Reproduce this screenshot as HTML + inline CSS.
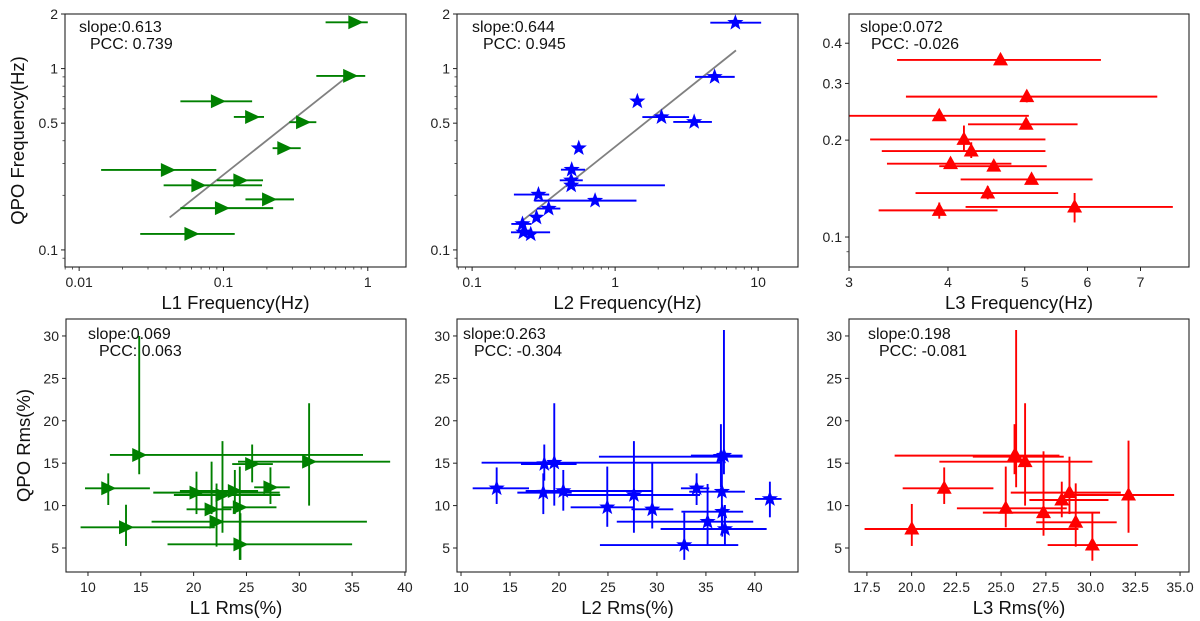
<!DOCTYPE html>
<html><head><meta charset="utf-8"><style>
body{margin:0;background:#fff;}
svg{display:block;font-family:"Liberation Sans","DejaVu Sans",sans-serif;}
</style></head><body>
<svg id="fig" width="1200" height="621" viewBox="0 0 1200 621" xmlns="http://www.w3.org/2000/svg"></svg>
<script>
// ---- Panel 1: L1 freq vs QPO freq ----
const p1X=[0.82,0.755,0.0915,0.158,0.356,0.264,0.0412,0.131,0.067,0.207,0.0976,0.060];
const p1Y=[1.80,0.911,0.66,0.541,0.506,0.364,0.276,0.242,0.227,0.19,0.170,0.1225];
const p1XLo=[0.51,0.44,0.0503,0.118,0.286,0.219,0.0142,0.0899,0.0385,0.142,0.0503,0.0265];
const p1XHi=[1.0,0.96,0.158,0.191,0.44,0.343,0.0892,0.188,0.185,0.308,0.221,0.1197];
const p1Fit=[[0.0424,0.151],[0.679,0.87]];
// ---- Panel 2: L2 freq vs QPO freq ----
const p2X=[6.93,4.96,1.43,2.11,3.57,0.557,0.497,0.493,0.493,0.291,0.724,0.343,0.282,0.225,0.228,0.257];
const p2Y=[1.79,0.9,0.66,0.54,0.508,0.364,0.277,0.242,0.227,0.202,0.187,0.169,0.151,0.139,0.125,0.122];
const p2XLo=[4.63,3.62,1.43,1.55,2.55,0.557,0.418,0.41,0.493,0.196,0.272,0.284,0.272,0.188,0.187,0.245];
const p2XHi=[10.5,6.86,1.43,3.29,4.75,0.557,0.616,0.594,2.23,0.346,1.41,0.414,0.292,0.26,0.351,0.27];
const p2Fit=[[0.23,0.147],[7.0,1.26]];
// ---- Panel 3: L3 freq vs QPO freq ----
const p3X=[4.66,5.03,3.90,5.02,4.19,4.28,4.03,4.57,5.10,4.49,5.78,3.90];
const p3Y=[0.355,0.273,0.238,0.224,0.201,0.185,0.169,0.166,0.151,0.137,0.124,0.121];
const p3XLo=[3.45,3.54,3.0,4.24,3.19,3.30,3.35,3.90,4.15,3.64,4.21,3.27];
const p3XHi=[6.24,7.35,5.06,5.83,5.31,5.31,4.81,5.33,6.09,5.51,7.69,4.62];
const p3YLo=[0.355,0.262,0.238,0.224,0.185,0.176,0.169,0.160,0.151,0.131,0.111,0.114];
const p3YHi=[0.355,0.285,0.238,0.224,0.222,0.197,0.169,0.172,0.151,0.144,0.137,0.128];
// ---- Panel 4: L1 rms vs QPO rms ----
const p4X=[14.85,30.93,25.54,11.92,27.27,20.27,22.73,23.9,21.7,24.37,22.17,13.6,24.43];
const p4Y=[15.97,15.18,14.9,12.04,12.15,11.53,11.25,11.72,9.56,9.8,8.1,7.44,5.43];
const p4XLo=[12.08,24.2,23.65,9.72,25.73,16.18,18.13,18.7,19.33,22.64,16.02,9.3,17.53];
const p4XHi=[36.03,38.6,27.5,15.86,29.1,28.15,28.2,26.1,23.58,27.84,36.4,22.0,35.0];
const p4YLo=[13.7,10.0,12.74,10.07,10.19,9.0,6.8,9.0,9.0,3.6,5.16,5.24,3.6];
const p4YHi=[30,22.06,17.2,13.8,14.51,14.0,17.6,14.2,15.18,14.6,12.6,10.1,9.1];
// ---- Panel 5: L2 rms vs QPO rms ----
const p5X=[36.84,36.53,19.52,18.5,13.64,18.4,20.44,27.65,34.05,36.63,24.93,29.52,41.53,36.67,35.17,36.94,32.79];
const p5Y=[15.89,15.77,15.06,14.9,12.04,11.53,11.72,11.25,12.04,11.64,9.8,9.56,10.78,9.28,8.1,7.24,5.35];
const p5XLo=[33.47,24.08,12.1,16.12,11.19,15.75,16.6,20.44,32.45,33.3,21.19,27.4,40,32.5,25.9,30.37,24.18];
const p5XHi=[38.74,38.74,36.6,21.8,16.94,21.3,29.5,34.4,35.34,38.98,27.6,31.67,42.72,38.8,39.83,41.2,38.3];
const p5YLo=[13.7,12.16,10.0,12.94,10.19,9.0,9.4,6.8,10.07,7.44,7.5,7.3,8.62,6.34,5.24,5.35,3.6];
const p5YHi=[30.7,19.6,22.06,17.2,14.5,13.8,14.2,17.6,13.8,16.2,14.6,15.1,12.82,10.07,12.55,10.07,9.17];
// ---- Panel 6: L3 rms vs QPO rms ----
const p6X=[25.84,25.75,26.34,21.82,32.12,28.82,28.39,25.26,27.37,29.17,20.01,30.1];
const p6Y=[15.77,15.89,15.18,12.04,11.25,11.53,10.66,9.68,9.17,8.03,7.24,5.35];
const p6XLo=[23.42,19.05,21.55,19.5,29.0,25.54,26.58,22.53,23.98,26.96,17.37,27.6];
const p6XHi=[28.5,28.26,30.1,24.57,34.67,31.69,31.0,28.67,30.53,31.46,29.32,32.64];
const p6YLo=[12.16,13.7,10.0,10.19,6.8,9.0,8.62,7.44,6.45,5.16,5.24,3.5];
const p6YHi=[30.7,19.6,22.06,14.5,17.66,15.77,12.82,14.6,16.4,12.62,10.19,9.17];
// tick labels
const tickLogX1=[0.01,0.1,1];const tickLogX1L=["0.01","0.1","1"];
const tickLogX2=[0.1,1,10];const tickLogX2L=["0.1","1","10"];
const tickLogY12=[0.1,0.5,1,2];const tickLogY12L=["0.1","0.5","1","2"];
const tickY3=[0.1,0.2,0.3,0.4];const tickY3L=["0.1","0.2","0.3","0.4"];
const tickX3=[3,4,5,6,7];const tickX3L=["3","4","5","6","7"];
const tickX4=[10,15,20,25,30,35,40];
const tickX5=[10,15,20,25,30,35,40];
const tickX6=[17.5,20,22.5,25,27.5,30,32.5,35];const tickX6L=["17.5","20.0","22.5","25.0","27.5","30.0","32.5","35.0"];
const tickYR=[5,10,15,20,25,30];

const NS="http://www.w3.org/2000/svg";
const fig=document.getElementById('fig');
function mk(tag,attrs,parent){const e=document.createElementNS(NS,tag);for(const k in attrs)e.setAttribute(k,attrs[k]);(parent||fig).appendChild(e);return e;}
function scale(lo,hi,p0,p1,log){if(log){const a=Math.log10(lo),b=Math.log10(hi);return v=>p0+(Math.log10(v)-a)/(b-a)*(p1-p0);}return v=>p0+(v-lo)/(hi-lo)*(p1-p0);}

function marker(g,type,cx,cy,color){
  let e;
  if(type==='right'){e=mk('polygon',{points:`${cx-7},${cy-7} ${cx+8},${cy} ${cx-7},${cy+7}`,fill:color},g);}
  else if(type==='up'){e=mk('polygon',{points:`${cx-7.5},${cy+5.5} ${cx},${cy-8} ${cx+7.5},${cy+5.5}`,fill:color},g);}
  else {let pts=[];for(let i=0;i<10;i++){const r=i%2?3.5:8.5;const a=-Math.PI/2+i*Math.PI/5;pts.push((cx+r*Math.cos(a)).toFixed(2)+','+(cy+r*Math.sin(a)).toFixed(2));}
    e=mk('polygon',{points:pts.join(' '),fill:color},g);}
  
  
}

function panel(cfg){
  const g=mk('g',{});
  
  
  const {L,R,T,B}=cfg;
  const sx=scale(cfg.xr[0],cfg.xr[1],L,R,cfg.xlog), sy=scale(cfg.yr[0],cfg.yr[1],B,T,cfg.ylog);
  if(cfg.fit){const f=mk('line',{x1:sx(cfg.fit[0][0]),y1:sy(cfg.fit[0][1]),x2:sx(cfg.fit[1][0]),y2:sy(cfg.fit[1][1]),stroke:'#808080','stroke-width':1.8},g);
    }
  const n=cfg.x.length;
  for(let i=0;i<n;i++){
    const xe=mk('line',{x1:sx(cfg.xlo[i]),x2:sx(cfg.xhi[i]),y1:sy(cfg.y[i]),y2:sy(cfg.y[i]),stroke:cfg.color,'stroke-width':1.9},g);
    
    if(cfg.ylo){const ye=mk('line',{x1:sx(cfg.x[i]),x2:sx(cfg.x[i]),y1:sy(cfg.ylo[i]),y2:sy(cfg.yhi[i]),stroke:cfg.color,'stroke-width':1.9},g);
      }
  }
  for(let i=0;i<n;i++)marker(g,cfg.marker,sx(cfg.x[i]),sy(cfg.y[i]),cfg.color);
  const fr=mk('rect',{x:L,y:T,width:R-L,height:B-T,fill:'none',stroke:'#222','stroke-width':1.1},g);
  
  cfg.xt.forEach((v,i)=>{const x=sx(v);mk('line',{x1:x,x2:x,y1:B,y2:B+4,stroke:'#222'},g);
    const t=mk('text',{x:x,y:B+20,'font-size':14,'text-anchor':'middle',fill:'#222'},g);t.textContent=cfg.xtl?cfg.xtl[i]:String(v);
    });
  cfg.yt.forEach((v,i)=>{const y=sy(v);mk('line',{x1:L-4,x2:L,y1:y,y2:y,stroke:'#222'},g);
    const t=mk('text',{x:L-7,y:y+5,'font-size':14,'text-anchor':'end',fill:'#222'},g);t.textContent=cfg.ytl?cfg.ytl[i]:String(v);
    });
  if(cfg.xlog&&cfg.xminor){for(let d=-3;d<=2;d++)for(let m=2;m<=9;m++){const v=m*Math.pow(10,d);if(v>cfg.xr[0]&&v<cfg.xr[1]){const x=sx(v);mk('line',{x1:x,x2:x,y1:B,y2:B+2.5,stroke:'#333','stroke-width':0.8},g);}}}
  if(cfg.ylog){for(let d=-3;d<=1;d++)for(let m=2;m<=9;m++){const v=m*Math.pow(10,d);if(v>cfg.yr[0]&&v<cfg.yr[1]&&cfg.yt.indexOf(v)<0){const y=sy(v);mk('line',{x1:L-2.5,x2:L,y1:y,y2:y,stroke:'#333','stroke-width':0.8},g);}}}
  const a=mk('text',{x:cfg.tx,y:cfg.ty,'font-size':16,fill:'#111'},g);a.textContent=cfg.t1;
  
  const b=mk('text',{x:cfg.tx+11,y:cfg.ty+17,'font-size':16,fill:'#111'},g);b.textContent=cfg.t2;
  
  const xl=mk('text',{x:(L+R)/2,y:B+42,'font-size':18.5,'text-anchor':'middle',fill:'#111'},g);xl.textContent=cfg.xlabel;
  
  if(cfg.ylabel){const yl=mk('text',{x:0,y:0,'font-size':18.5,'text-anchor':'middle',fill:'#111',transform:`translate(${cfg.ylx},${(T+B)/2}) rotate(-90)`},g);yl.textContent=cfg.ylabel;
    }
}
const TT=14,TB=267,BT=319,BB=572;
panel({name:'panel-l1-frequency',L:65,R:406,T:TT,B:TB,xr:[0.00798,1.84],xlog:true,xminor:true,yr:[0.0805,2],ylog:true,
 x:p1X,y:p1Y,xlo:p1XLo,xhi:p1XHi,fit:p1Fit,color:'#008000',marker:'right',xt:tickLogX1,xtl:tickLogX1L,yt:tickLogY12,ytl:tickLogY12L,
 t1:'slope:0.613',t2:'PCC: 0.739',tx:79,ty:32,xlabel:'L1 Frequency(Hz)',ylabel:'QPO Frequency(Hz)',ylx:24});
panel({name:'panel-l2-frequency',L:457,R:798,T:TT,B:TB,xr:[0.0784,19.0],xlog:true,xminor:true,yr:[0.0805,2],ylog:true,
 x:p2X,y:p2Y,xlo:p2XLo,xhi:p2XHi,fit:p2Fit,color:'#0000ff',marker:'star',xt:tickLogX2,xtl:tickLogX2L,yt:tickLogY12,ytl:tickLogY12L,
 t1:'slope:0.644',t2:'PCC: 0.945',tx:472,ty:32,xlabel:'L2 Frequency(Hz)'});
panel({name:'panel-l3-frequency',L:849,R:1189,T:TT,B:TB,xr:[3,8.06],xlog:true,yr:[0.0807,0.493],ylog:true,
 x:p3X,y:p3Y,xlo:p3XLo,xhi:p3XHi,ylo:p3YLo,yhi:p3YHi,color:'#ff0000',marker:'up',xt:tickX3,xtl:tickX3L,yt:tickY3,ytl:tickY3L,
 t1:'slope:0.072',t2:'PCC: -0.026',tx:860,ty:32,xlabel:'L3 Frequency(Hz)'});
panel({name:'panel-l1-rms',L:66,R:406,T:BT,B:BB,xr:[7.92,40.1],yr:[2.17,32.0],
 x:p4X,y:p4Y,xlo:p4XLo,xhi:p4XHi,ylo:p4YLo,yhi:p4YHi,color:'#008000',marker:'right',xt:tickX4,yt:tickYR,
 t1:'slope:0.069',t2:'PCC: 0.063',tx:88,ty:339,xlabel:'L1 Rms(%)',ylabel:'QPO Rms(%)',ylx:30});
panel({name:'panel-l2-rms',L:457,R:798,T:BT,B:BB,xr:[9.59,44.4],yr:[2.17,32.0],
 x:p5X,y:p5Y,xlo:p5XLo,xhi:p5XHi,ylo:p5YLo,yhi:p5YHi,color:'#0000ff',marker:'star',xt:tickX5,yt:tickYR,
 t1:'slope:0.263',t2:'PCC: -0.304',tx:463,ty:339,xlabel:'L2 Rms(%)'});
panel({name:'panel-l3-rms',L:849,R:1189,T:BT,B:BB,xr:[16.5,35.5],yr:[2.17,32.0],
 x:p6X,y:p6Y,xlo:p6XLo,xhi:p6XHi,ylo:p6YLo,yhi:p6YHi,color:'#ff0000',marker:'up',xt:tickX6,xtl:tickX6L,yt:tickYR,
 t1:'slope:0.198',t2:'PCC: -0.081',tx:868,ty:339,xlabel:'L3 Rms(%)'});
</script>
</body></html>
